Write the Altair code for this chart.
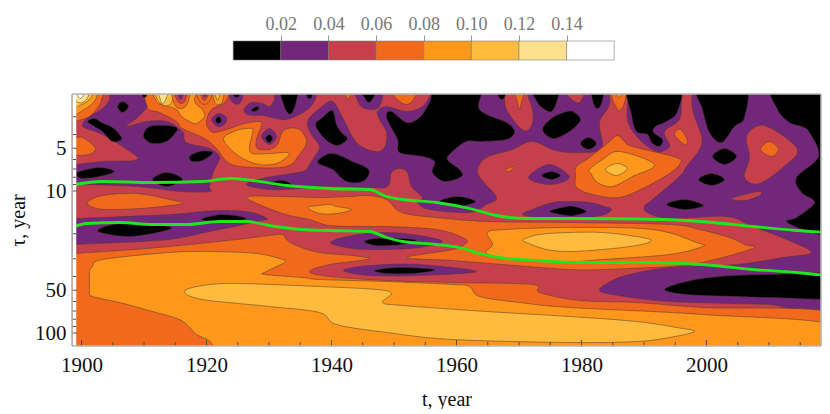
import altair as alt
import pandas as pd

# Colour classes (wavelet power): 0 <0.02 ... 7 >0.14
LEVEL_COLORS = ["#000000", "#72277a", "#c6404c", "#f0691c", "#fd981c", "#febb3d", "#fee08d", "#ffffff"]
LEVEL_EDGES = [0.0, 0.02, 0.04, 0.06, 0.08, 0.10, 0.12, 0.14, 0.16]
LEGEND_TICKS = [0.02, 0.04, 0.06, 0.08, 0.10, 0.12, 0.14]
X_MAJOR = [1900, 1920, 1940, 1960, 1980, 2000]
X_MINOR = [y for y in range(1905, 2020, 5) if y % 20]
Y_MAJOR = [5, 10, 50, 100]
Y_MINOR = [3, 4, 6, 7, 8, 9, 20, 30, 40, 60, 70, 80, 90]

# Digitised contour outlines as (t reading, tau reading) pairs;
# calibration to years and tau from the axis ticks is in year() and tau() below.
base = [30,50, 860,50, 860,390, 30,390]
p1 = [83,126, 87,119, 103,109, 110,100, 113,88, 150,88, 150,100, 148,107, 138,118, 127,127, 147,122, 167,122, 183,132, 187,143, 210,149, 220,157, 218,164, 214,172, 210,187, 210,192, 180,192, 137,187, 75,185, 60,185, 60,165, 75,165, 103,162, 138,160, 123,147, 103,135, 87,129]
m1 = [245,109, 252,103, 263,104, 270,107, 275,99, 277,86, 317,86, 317,95, 313,105, 302,114, 287,120, 277,119, 263,116, 252,116, 246,114]
p_small = [230,88, 230,98, 235,104, 240,104, 243,98, 243,88]
p2 = [247,185, 267,178, 303,172, 310,165, 315,157, 320,147, 312,135, 308,122, 320,109, 333,102, 343,118, 357,143, 375,152, 385,148, 387,133, 380,120, 378,112, 387,107, 407,112, 423,107, 431,95, 433,86, 840,86, 845,308, 770,305, 670,302, 613,295, 600,290, 613,281, 630,275, 670,268, 737,265, 783,258, 812,253, 787,240, 753,227, 727,217, 670,219, 648,213, 645,207, 653,200, 680,177, 687,167, 700,150, 702,137, 693,110, 692,86, 683,86, 682,100, 680,120, 665,132, 670,145, 667,150, 657,152, 640,140, 628,120, 628,86, 610,86, 610,105, 600,123, 603,145, 597,152, 570,153, 553,150, 532,142, 513,150, 487,158, 478,170, 482,180, 497,198, 487,205, 470,213, 430,210, 418,203, 423,198, 412,187, 408,173, 400,169, 392,173, 388,187, 370,188, 320,187, 303,189, 270,190]
p_low = [60,220, 75,219, 170,215, 203,212, 220,211, 247,212, 262,216, 268,220, 262,221, 240,226, 210,232, 170,240, 120,243, 75,245, 60,246]
p_lens = [523,215, 533,210, 553,203, 570,202, 590,203, 605,207, 612,210, 605,215, 590,218, 570,220, 540,218]
p_hole1 = [331,243, 353,236, 387,233, 420,236, 443,242, 420,248, 387,250, 353,249]
p_hole2 = [344,271, 370,266, 420,265, 477,272, 420,276, 370,276]
p_ring = [529,178, 550,165, 570,178, 550,185]
p_ring2 = [212,120, 219,114, 227,118, 225,125, 218,127]
p_ring3 = [262,137, 270,129, 277,137, 270,145]
p_top = [357,88, 360,105, 370,110, 380,107, 382,88]
p_tear = [794,88, 797,105, 799,120, 801,105, 805,88]
r_lobe = [505,88, 505,95, 507,110, 520,128, 528,131, 533,123, 533,110, 528,95, 528,88]
r_tear = [566,88, 570,98, 580,103, 585,88]
r_big = [747,137, 760,126, 777,132, 798,150, 787,165, 760,184, 745,178, 750,158]
r_small = [732,199, 759,192, 760,196, 745,201]
k1 = [88,122, 95,119, 102,123, 113,128, 120,135, 122,140, 113,142, 103,132, 95,127]
k2 = [144,135, 150,127, 167,126, 177,128, 177,132, 167,142, 153,144, 146,140]
k3 = [190,157, 200,152, 212,152, 212,155, 203,161, 193,162]
k4 = [153,180, 167,173, 183,180, 167,187]
k5 = [77,176, 80,172, 100,168, 115,172, 100,177, 83,179]
k6 = [118,107, 123,102, 129,107, 123,113]
k7 = [387,118, 392,112, 407,123, 420,118, 430,103, 432,95, 433,86, 480,86, 480,110, 507,123, 515,132, 507,140, 480,142, 467,142, 453,152, 448,160, 460,170, 462,177, 445,182, 433,173, 435,162, 423,157, 400,153, 398,140]
k8 = [316,125, 323,118, 333,111, 337,125, 342,133, 348,139, 343,144, 337,146, 330,143, 323,137]
k9 = [318,163, 330,154, 345,158, 353,162, 365,167, 370,173, 363,182, 347,182, 333,170]
k10 = [142,88, 143,96, 145,98, 147,96, 148,88]
k11 = [233,88, 234,96, 237,98, 240,96, 240,88]
k12 = [252,110, 258,107, 259,110, 254,112]
k13 = [281,88, 284,105, 288,113, 292,114, 296,105, 298,88]
k14 = [305,88, 308,98, 312,98, 313,88]
k15 = [268,184, 283,181, 293,186, 280,187]
k16 = [360,88, 365,98, 369,103, 374,98, 377,88]
k17 = [440,202, 458,197, 476,202, 458,207]
k18 = [497,88, 499,97, 503,100, 506,95, 506,88]
k19 = [533,88, 538,103, 545,110, 552,112, 557,103, 558,88]
k20 = [543,130, 553,118, 568,112, 575,113, 581,120, 575,128, 565,135, 553,139]
k21 = [592,88, 594,104, 598,109, 602,104, 604,88]
k22 = [581,144, 589,138, 597,144, 589,150]
k23 = [630,86, 632,115, 637,132, 648,135, 652,143, 660,147, 663,140, 654,133, 656,127, 667,122, 678,112, 679,86]
k24 = [698,86, 703,110, 710,133, 722,143, 735,127, 745,118, 745,86]
k25 = [775,86, 778,110, 790,123, 802,127, 810,133, 819,157, 797,178, 802,193, 815,203, 797,218, 787,222, 803,230, 827,237, 845,240, 845,86]
k26 = [713,157, 725,149, 737,157, 725,165]
k27 = [699,180, 712,174, 725,180, 712,186]
k28 = [667,205, 685,200, 704,206, 685,210]
k29 = [665,290, 687,282, 720,277, 770,275, 845,275, 845,298, 770,298, 737,297, 687,295]
k30 = [98,231, 113,225, 137,224, 163,226, 172,229, 153,234, 130,237, 110,235]
k31 = [202,220, 223,215, 247,219, 223,223]
k32 = [365,242, 377,239, 403,239, 417,241, 403,245, 377,246]
k33 = [375,271, 397,268, 427,269, 435,271, 413,274, 387,274]
k34 = [542,176, 552,172, 561,176, 552,180]
k35 = [216,121, 219,117, 222,121, 219,124]
k36 = [266,139, 270,135, 273,139, 270,143]
k37 = [550,212, 567,207, 575,207, 587,212, 575,216, 567,216]
o_corner = [60,85, 103,85, 102,100, 99,107, 90,117, 75,122, 60,125]
o_left = [60,138, 75,138, 83,138, 93,145, 96,150, 90,155, 75,156, 60,156]
s1 = [152,86, 148,108, 160,113, 177,122, 183,129, 205,139, 217,149, 230,164, 253,168, 287,167, 300,155, 307,142, 300,130, 288,129, 282,134, 278,145, 270,150, 258,149, 257,140, 262,126, 260,122, 245,124, 230,129, 215,133, 209,129, 207,122, 212,110, 226,102, 223,86]
o_tear1 = [343,88, 347,98, 349,100, 352,88]
o_top = [390,88, 398,100, 407,105, 414,100, 417,88]
o_tear2 = [515,88, 518,103, 520,110, 522,103, 525,88]
o_tear3 = [612,88, 613,100, 617,108, 620,111, 624,106, 627,95, 627,88]
o_tiny = [506,170, 514,167, 513,170, 508,172]
o_oval = [675,135, 681,130, 688,141, 685,145]
o_right = [761,150, 770,142, 779,150, 772,157]
o_oblong = [88,203, 103,196, 137,194, 170,200, 183,204, 153,208, 120,210, 97,209]
o_main = [247,198, 283,197, 320,198, 350,197, 370,196, 387,200, 397,210, 410,215, 437,218, 487,222, 570,223, 670,225, 700,230, 730,238, 745,245, 753,249, 703,263, 670,267, 603,270, 570,270, 503,265, 453,261, 407,258, 453,250, 467,243, 463,238, 437,230, 387,227, 370,227, 330,226, 310,220, 283,214]
o_low = [60,255, 73,254, 120,251, 170,247, 237,240, 270,236, 283,235, 287,240, 297,246, 320,253, 353,256, 370,259, 353,262, 330,265, 310,272, 330,277, 387,281, 453,283, 533,285, 540,293, 580,301, 637,303, 703,308, 845,316, 845,375, 60,375]
o_ring1 = [173,88, 175,105, 182,109, 188,104, 190,88]
o_ring2 = [197,88, 199,100, 205,105, 211,100, 213,88]
o_blob = [576,177, 577,167, 590,158, 610,142, 618,136, 625,142, 633,147, 677,158, 680,165, 670,174, 647,187, 620,198, 593,195, 577,188]
a_low = [90,282, 90,272, 93,267, 103,260, 170,253, 210,252, 257,254, 283,260, 285,263, 267,272, 265,275, 303,278, 320,280, 387,282, 453,285, 470,287, 480,297, 520,303, 570,308, 703,315, 845,328, 845,375, 222,375, 213,345, 197,335, 190,328, 180,320, 153,312, 120,303, 93,297, 90,292]
a_upper = [487,254, 493,245, 488,233, 507,230, 570,228, 653,230, 697,243, 703,247, 670,255, 603,260, 570,262, 513,260]
a_mid = [308,208, 320,206, 330,205, 337,207, 352,210, 337,214, 320,214]
a_top = [155,86, 157,102, 165,106, 177,110, 182,117, 190,122, 197,124, 205,117, 203,110, 197,105, 195,99, 197,86]
a_top2 = [213,88, 215,102, 219,105, 223,102, 224,88]
a_s1 = [224,140, 237,131, 252,129, 253,134, 250,147, 253,154, 270,154, 288,153, 288,157, 277,164, 260,165, 240,157]
a_blob = [590,170, 603,160, 620,152, 655,165, 633,177, 613,187, 598,183, 592,175]
a_corner = [60,85, 98,85, 98,95, 93,104, 80,113, 73,116, 60,118]
a_tear3 = [617,88, 619,99, 623,88]
g_low = [185,292, 203,286, 237,284, 320,287, 377,290, 392,294, 383,303, 403,306, 487,312, 570,317, 637,322, 677,328, 695,332, 670,338, 637,342, 570,343, 453,340, 387,333, 337,325, 320,313, 270,307, 203,300]
g_upper = [524,240, 540,235, 570,233, 603,233, 637,237, 652,241, 637,246, 603,250, 570,252, 547,250, 527,243]
g_blob = [606,170, 617,164, 628,169, 617,176]
g_top = [155,86, 158,100, 165,106, 172,103, 174,86]
g_top2 = [215,88, 216,96, 218,101, 220,96, 222,88]
g_corner = [60,85, 94,85, 93,95, 88,102, 80,106, 74,110, 60,112]
y_top = [158,88, 160,97, 163,104, 167,98, 170,88]
y_corner = [74,86, 74,97, 79,103, 85,102, 89,96, 90,86]
w_corner = [77,86, 78,95, 81,99, 84,95, 85,86]
red_ring1 = [176,88, 177,100, 182,104, 186,100, 187,88]
red_ring2 = [200,88, 202,97, 205,101, 208,97, 211,88]
pur_ring1 = [177,88, 179,97, 181,100, 183,97, 184,88]
pur_ring2 = [202,88, 204,95, 205,98, 207,95, 209,88]

REGIONS = [
    (2, base), (1, p1), (1, m1), (1, p_small), (1, p2), (1, p_low), (1, p_lens),
    (2, r_lobe), (2, r_tear), (2, r_big), (2, r_small), (1, p_tear),
    (3, o_main), (3, o_low), (3, o_corner), (3, o_left), (3, s1), (3, o_tear1), (3, o_top),
    (3, o_tear2), (3, o_tear3), (3, o_tiny), (3, o_oval), (3, o_right), (3, o_oblong), (3, o_blob),
    (4, a_low), (4, a_upper), (4, a_mid), (4, a_top), (4, a_top2), (4, a_s1), (4, a_blob),
    (4, a_corner), (4, a_tear3),
    (5, g_low), (5, g_upper), (5, g_blob), (5, g_top), (5, g_top2), (5, g_corner),
    (6, y_top), (6, y_corner), (7, w_corner),
    (3, o_ring1), (3, o_ring2), (2, red_ring1), (2, red_ring2), (1, pur_ring1), (1, pur_ring2),
    (1, p_hole1), (1, p_hole2), (1, p_ring), (1, p_ring2), (1, p_ring3), (1, p_top),
    (0, k1), (0, k2), (0, k3), (0, k4), (0, k5), (0, k6), (0, k7), (0, k8), (0, k9), (0, k10),
    (0, k11), (0, k12), (0, k13), (0, k14), (0, k15), (0, k16), (0, k17), (0, k18), (0, k19),
    (0, k20), (0, k21), (0, k22), (0, k23), (0, k24), (0, k25), (0, k26), (0, k27), (0, k28),
    (0, k29), (0, k30), (0, k31), (0, k32), (0, k33), (0, k34), (0, k35), (0, k36), (0, k37),
]

ridge_upper = [75,185, 103,182, 153,183, 203,182, 230,179, 253,181, 287,186, 330,189, 370,190, 387,197, 403,200, 437,203, 470,209, 497,216, 527,219, 580,219, 663,220, 713,223, 753,227, 797,231, 827,233]
ridge_lower = [75,227, 87,224, 120,223, 153,225, 187,225, 220,222, 247,222, 270,226, 303,230, 330,231, 370,232, 387,238, 403,242, 437,245, 460,248, 480,254, 500,258, 537,261, 580,263, 653,263, 703,265, 753,270, 797,273, 827,276]


def year(r):
    return 1900 + (r - 82) / 6.25


def tau(s):
    return 10 ** (1 + (s - 191.5) / 142)


def pairs(flat):
    return list(zip(flat[0::2], flat[1::2]))


W, H = 749, 252
X_DOMAIN = [year(72.5), year(72.5 + W)]
Y_DOMAIN = [tau(94.5), tau(346.5)]

rows = []
for rid, (level, flat) in enumerate(REGIONS):
    for i, (a, b) in enumerate(pairs(flat)):
        rows.append({"rid": rid, "level": level, "i": i, "t": year(a), "tau": tau(b)})
df = pd.DataFrame(rows)

xs = alt.Scale(domain=X_DOMAIN, nice=False, zero=False)
ys = alt.Scale(type="log", domain=Y_DOMAIN, reverse=True, nice=False)
FONT = "Liberation Serif"

fills = alt.Chart(df).mark_line(
    interpolate="cardinal-closed", clip=True, stroke="#4d3a2e", strokeWidth=0.8, strokeOpacity=0.65
).encode(
    x=alt.X("t:Q", scale=xs, axis=alt.Axis(values=X_MAJOR, format="d", tickSize=0, domain=False, grid=False,
                                           labelFont=FONT, labelFontSize=21, labelColor="#111", labelPadding=8,
                                           title="t, year", titleFont=FONT, titleFontSize=20,
                                           titleFontWeight="normal", titleColor="#111", titlePadding=14)),
    y=alt.Y("tau:Q", scale=ys, axis=alt.Axis(values=Y_MAJOR, format="d", tickSize=0, domain=False, grid=False,
                                             labelFont=FONT, labelFontSize=21, labelColor="#111", labelPadding=6,
                                             title="τ, year", titleFont=FONT, titleFontSize=20,
                                             titleFontWeight="normal", titleColor="#111", titlePadding=6)),
    fill=alt.Fill("level:N", scale=alt.Scale(domain=list(range(8)), range=LEVEL_COLORS), legend=None),
    detail="rid:N",
    order="i:Q",
)

ridges = []
for name, flat in (("upper", ridge_upper), ("lower", ridge_lower)):
    d = pd.DataFrame([{"t": year(a), "tau": tau(b)} for a, b in pairs(flat)])
    ridges.append(alt.Chart(d).mark_line(color="#1fe61f", strokeWidth=2.8, interpolate="monotone", clip=True)
                  .encode(x=alt.X("t:Q", scale=xs), y=alt.Y("tau:Q", scale=ys)))

strip = alt.Chart(pd.DataFrame({"a": [0]})).mark_rule(color="white", strokeWidth=3.5).encode(
    x=alt.value(2.5), y=alt.value(0), y2=alt.value(H))


def xticks(vals, length):
    return alt.Chart(pd.DataFrame({"t": vals})).mark_rule(color="#444", strokeWidth=0.9).encode(
        x=alt.X("t:Q", scale=xs), y=alt.value(H), y2=alt.value(H - length))


def yticks(vals, length):
    return alt.Chart(pd.DataFrame({"tau": vals})).mark_rule(color="#444", strokeWidth=0.9).encode(
        y=alt.Y("tau:Q", scale=ys), x=alt.value(0), x2=alt.value(length))


def frame(**enc):
    return alt.Chart(pd.DataFrame({"a": [0]})).mark_rule(color="#b4b4b4", strokeWidth=1.6).encode(**enc)


frames = [
    frame(x=alt.value(0), y=alt.value(0), y2=alt.value(H)),
    frame(x=alt.value(W), y=alt.value(0), y2=alt.value(H)),
    frame(y=alt.value(0), x=alt.value(0), x2=alt.value(W)),
    frame(y=alt.value(H), x=alt.value(0), x2=alt.value(W)),
]

main = alt.layer(fills, *ridges, strip, xticks(X_MAJOR, 6), xticks(X_MINOR, 4), yticks(Y_MAJOR, 5),
                 yticks(Y_MINOR, 4), *frames).properties(width=W, height=H)

leg_df = pd.DataFrame({"a": LEVEL_EDGES[:-1], "b": LEVEL_EDGES[1:], "level": list(range(8))})
# same scale as the bar in the picture: 0.02 per class
lx = alt.Scale(domain=[-0.0677, -0.0677 + W / 47.625 * 0.02], nice=False, zero=False)
legend = alt.Chart(leg_df).mark_rect(stroke="#777", strokeWidth=0.8, strokeOpacity=0.7).encode(
    x=alt.X("a:Q", scale=lx, title=None,
            axis=alt.Axis(orient="top", values=LEGEND_TICKS, format=".2f", domain=False, grid=False, tickSize=6,
                          tickColor="#999", labelFont=FONT, labelFontSize=18, labelColor="#777", labelPadding=2)),
    x2="b:Q",
    fill=alt.Fill("level:N", scale=alt.Scale(domain=list(range(8)), range=LEVEL_COLORS), legend=None),
).properties(width=W, height=19, view=alt.ViewConfig(stroke=None))

chart = alt.vconcat(legend, main, spacing=31).properties(
    padding={"left": 0, "top": 7, "right": 0, "bottom": 0}
).configure_view(stroke=None)

chart.save("out.html", embed_options={"renderer": "svg", "actions": False})
